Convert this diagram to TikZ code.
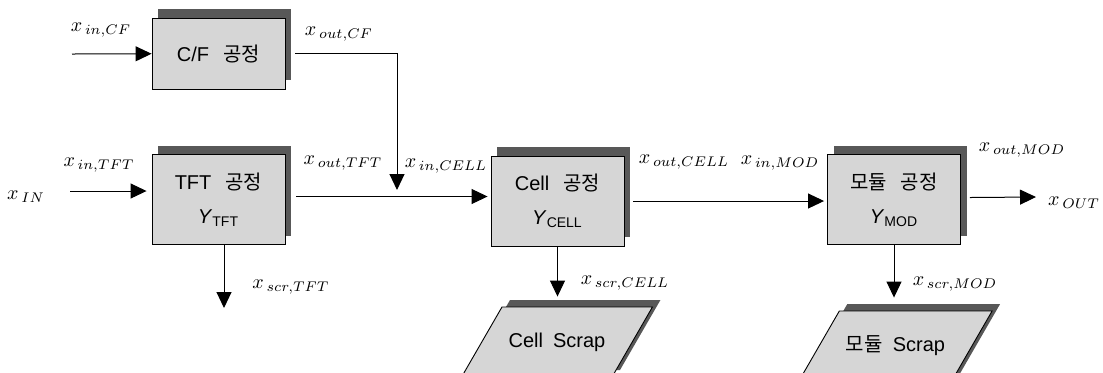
\documentclass[tikz,border=0pt]{standalone}
\usepackage{amsmath}
\usepackage{fontspec}
\setsansfont{Liberation Sans}
\newfontfamily\kr{Noto Sans CJK KR}
\usetikzlibrary{arrows.meta,positioning,shapes.geometric,shadows}
\definecolor{BoxGray}{RGB}{214,214,214}
\definecolor{ShadeGray}{RGB}{88,88,88}
\newcommand{\gap}{\hspace{0.7em}}

\begin{document}
\begin{tikzpicture}[x=0.5pt,y=-0.5pt,
  proc/.style={rectangle,draw=black,fill=BoxGray,line width=0.45pt,minimum width=66.5pt,minimum height=45pt,align=center,font=\sffamily\fontsize{10}{17}\selectfont,drop shadow={shadow xshift=3pt,shadow yshift=4.5pt,fill=ShadeGray,opacity=1}},
  scrap/.style={trapezium,trapezium left angle=60,trapezium right angle=120,trapezium stretches body=true,draw=black,fill=BoxGray,line width=0.45pt,text height=7.5pt,text depth=2.5pt,inner ysep=12.5pt,minimum width=78pt,font=\sffamily\fontsize{10}{12}\selectfont,drop shadow={shadow xshift=4pt,shadow yshift=3.5pt,fill=ShadeGray,opacity=1}},
  lbl/.style={font=\normalsize},
  arr/.style={-{Triangle[length=8pt,width=7.5pt]},line width=0.5pt}
]
  \useasboundingbox (0,0) rectangle (1103,372);
  % process blocks
  \node[proc,minimum height=35.5pt] (cf) at (218.5,53.5) {C/F\gap{\kr 공정}};
  \node[proc] (tft) at (218.5,199.5) {TFT\gap{\kr 공정}\\$\textsf{\textit{Y}}_{\textsf{TFT}}$};
  \node[proc] (cell) at (557.5,201) {Cell\gap{\kr 공정}\\$\textsf{\textit{Y}}_{\textsf{CELL}}$};
  \node[proc] (mod) at (894,199.5) {{\kr 모듈\gap 공정}\\$\textsf{\textit{Y}}_{\textsf{MOD}}$};
  \node[scrap] (cellscr) at (557,342) {Cell\enspace Scrap};
  \node[scrap] (modscr) at (895.5,346) {{\kr 모듈}\enspace Scrap};
  % free ends
  \coordinate (incf) at (72,54);
  \coordinate (intft) at (70,191);
  \coordinate (join) at (397,190);
  \coordinate (out) at (1036,197);
  \coordinate (scrtft) at (224,308);
  % flows
  \draw[arr] (incf) -- (cf);
  \draw[arr] ([xshift=5pt]cf.east) -| (join);
  \draw[arr,shorten >=2.5pt] (intft) -- (intft -| tft.west);
  \draw[arr,shorten >=1.5pt] ([xshift=5.5pt,yshift=1.5pt]tft.east) -- ([yshift=1.5pt]tft.east -| cell.west);
  \draw[arr,shorten >=1.5pt] ([xshift=4.5pt]cell.east) -- (cell.east -| mod.west);
  \draw[arr] ([xshift=4.5pt,yshift=1pt]mod.east) -- (out);
  \draw[arr] (tft.south -| scrtft) -- (scrtft);
  \draw[arr,shorten >=5pt] (cell.south) -- (cell.south |- cellscr.north);
  \draw[arr,shorten >=6.5pt] (mod.south) -- (mod.south |- modscr.north);
  % labels
  \node[lbl] (lincf) at (101,30) {$x_{\,in,CF}$};
  \node[lbl] (loutcf) at (339,34) {$x_{\,out,CF}$};
  \node[lbl] (lIN) at (26,197) {$x_{\,IN}$};
  \node[lbl] (lintft) at (99,165) {$x_{\,in,TFT}$};
  \node[lbl] (louttft) at (343,163) {$x_{\,out,TFT}$};
  \node[lbl] (lincell) at (446,166) {$x_{\,in,CELL}$};
  \node[lbl] (lscrtft) at (291,287) {$x_{\,scr,TFT}$};
  \node[lbl] (loutcell) at (684,162) {$x_{\,out,CELL}$};
  \node[lbl] (linmod) at (780,163) {$x_{\,in,MOD}$};
  \node[lbl] (lscrcell) at (625,283) {$x_{\,scr,CELL}$};
  \node[lbl] (loutmod) at (1022,150) {$x_{\,out,MOD}$};
  \node[lbl] (lscrmod) at (955,284) {$x_{\,scr,MOD}$};
  \node[lbl] (lOUT) at (1074,203) {$x_{\,OUT}$};
\end{tikzpicture}
\end{document}
